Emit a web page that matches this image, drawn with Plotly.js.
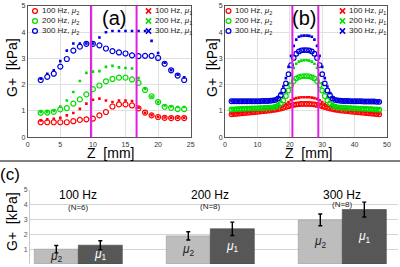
<!DOCTYPE html>
<html>
<head>
<meta charset="utf-8">
<script src="https://cdn.plot.ly/plotly-3.0.1.min.js"></script>
<style>html,body{margin:0;padding:0;background:#fff;}#chart{width:400px;height:267px;}</style>
</head>
<body>
<div id="chart"></div>
<script>
// ---------- Panel (a) data ----------
const zA = [2,3,4,5,6,7,8,9,10,11,12,13,14,15,16,17,18,19,20,21,22,23,24];
const a100mu2 = [0.57,0.57,0.57,0.57,0.57,0.61,0.66,0.68,0.71,0.83,0.96,1.17,1.25,1.25,1.21,1.10,0.94,0.83,0.77,0.74,0.73,0.73,0.73];
const a100mu1 = [0.64,0.68,0.70,0.74,0.83,0.92,1.08,1.28,1.43,1.47,1.40,1.34,1.40,1.40,1.38,1.12,0.93,0.84,0.78,0.75,0.74,0.74,0.74];
const a200mu2 = [0.93,0.94,0.97,1.06,1.11,1.28,1.44,1.63,1.83,1.97,2.13,2.22,2.27,2.27,2.20,2.07,1.80,1.56,1.34,1.16,1.12,1.07,1.07];
const a200mu1 = [0.96,0.96,1.00,1.17,1.40,1.72,2.14,2.45,2.50,2.52,2.68,2.72,2.66,2.64,2.62,2.25,1.85,1.55,1.33,1.21,1.17,1.15,1.15];
const a300mu2 = [2.18,2.30,2.42,2.69,2.98,3.30,3.45,3.56,3.56,3.50,3.38,3.28,3.23,3.19,3.12,3.09,3.10,3.10,3.02,2.80,2.55,2.35,2.18];
const a300mu1 = [2.23,2.42,2.55,2.90,3.30,3.57,3.57,3.57,3.57,3.80,4.00,4.05,4.05,4.05,4.05,4.05,4.05,3.67,3.21,2.84,2.55,2.38,2.28];
const boundsA = [9.7, 16.7];

// ---------- Panel (b) data ----------
const zB = [2.0,2.8,3.6,4.4,5.2,6.0,6.8,7.6,8.4,9.2,10.0,10.8,11.6,12.4,13.2,14.0,14.8,15.6,16.4,17.2,18.0,18.8,19.6,20.4,21.2,22.0,22.8,23.6,24.4,25.2,26.0,26.8,27.6,28.4,29.2,30.0,30.8,31.6,32.4,33.2,34.0,34.8,35.6,36.4,37.2,38.0,38.8,39.6,40.4,41.2,42.0,42.8,43.6,44.4,45.2,46.0,46.8,47.6];
const b100mu2 = [0.87,0.88,0.89,0.90,0.91,0.92,0.93,0.94,0.95,0.96,0.97,0.98,0.99,1.00,1.01,1.02,1.04,1.05,1.07,1.09,1.12,1.15,1.18,1.21,1.23,1.25,1.26,1.27,1.27,1.27,1.27,1.26,1.25,1.23,1.21,1.18,1.15,1.12,1.09,1.07,1.05,1.04,1.02,1.01,1.00,0.99,0.98,0.97,0.96,0.95,0.94,0.93,0.92,0.91,0.90,0.89,0.88,0.87];
const b100mu1 = [0.90,0.91,0.92,0.93,0.94,0.95,0.96,0.97,0.98,0.99,1.00,1.01,1.02,1.03,1.04,1.05,1.07,1.09,1.12,1.16,1.21,1.27,1.34,1.41,1.46,1.49,1.51,1.52,1.52,1.52,1.52,1.51,1.49,1.46,1.41,1.34,1.27,1.21,1.16,1.12,1.09,1.07,1.05,1.04,1.03,1.02,1.01,1.00,0.99,0.98,0.97,0.96,0.95,0.94,0.93,0.92,0.91,0.90];
const b200mu2 = [1.06,1.06,1.07,1.07,1.08,1.08,1.09,1.09,1.10,1.10,1.10,1.11,1.11,1.12,1.12,1.13,1.14,1.16,1.20,1.28,1.40,1.57,1.78,1.98,2.14,2.24,2.29,2.32,2.33,2.33,2.32,2.29,2.24,2.14,1.98,1.78,1.57,1.40,1.28,1.20,1.16,1.14,1.13,1.12,1.12,1.11,1.11,1.10,1.10,1.09,1.09,1.08,1.08,1.07,1.07,1.06,1.06,1.05];
const b200mu1 = [1.10,1.10,1.11,1.11,1.12,1.12,1.13,1.13,1.13,1.14,1.14,1.14,1.15,1.15,1.15,1.16,1.17,1.19,1.25,1.36,1.52,1.75,2.05,2.38,2.64,2.80,2.88,2.92,2.93,2.93,2.92,2.88,2.80,2.64,2.38,2.05,1.75,1.52,1.36,1.25,1.20,1.18,1.17,1.16,1.16,1.15,1.15,1.14,1.14,1.13,1.13,1.12,1.12,1.11,1.11,1.10,1.10,1.10];
const b300mu2 = [1.37,1.37,1.37,1.37,1.37,1.37,1.37,1.37,1.37,1.37,1.37,1.37,1.38,1.38,1.38,1.39,1.40,1.42,1.48,1.60,1.78,2.05,2.40,2.75,3.02,3.18,3.27,3.31,3.32,3.32,3.31,3.27,3.18,3.02,2.75,2.40,2.05,1.78,1.60,1.48,1.42,1.40,1.39,1.38,1.38,1.38,1.37,1.37,1.37,1.37,1.37,1.36,1.36,1.36,1.36,1.36,1.35,1.35];
const b300mu1 = [1.38,1.38,1.38,1.38,1.38,1.38,1.38,1.38,1.38,1.38,1.38,1.38,1.38,1.38,1.39,1.39,1.40,1.42,1.50,1.68,1.93,2.25,2.68,3.10,3.48,3.72,3.83,3.86,3.87,3.87,3.86,3.83,3.72,3.48,3.10,2.68,2.25,1.93,1.68,1.50,1.42,1.40,1.39,1.39,1.38,1.38,1.38,1.38,1.38,1.37,1.37,1.37,1.37,1.36,1.36,1.36,1.36,1.36];
const boundsB = [20.8, 28.8];

// ---------- Panel (c) data ----------
const freqs = ['100 Hz','200 Hz','300 Hz'];
const nLabels = ['(N=6)','(N=8)','(N=8)'];
const barMu2 = [1.00, 1.90, 2.98];
const errMu2 = [0.25, 0.28, 0.40];
const barMu1 = [1.27, 2.38, 3.68];
const errMu1 = [0.30, 0.45, 0.50];

const legendLabels = ['100 Hz', '200 Hz', '300 Hz'];
const colors = ['#ff0000', '#00dd00', '#0000dd'];

const FONT = 'Liberation Sans, Arial, sans-serif';
const W = 400, H = 267;
const px = v => v / W;
const py = v => 1 - v / H;

const traces = [];
function addPanel(xs, sets, xa, ya, csize) {
  sets.forEach((s, i) => {
    traces.push({type:'scatter', mode:'markers', x: xs, y: s[0], xaxis: xa, yaxis: ya, showlegend:false,
      marker:{symbol:'circle-open', size: csize, color: colors[i], line:{width:1.2, color: colors[i]}}});
    traces.push({type:'scatter', mode:'markers', x: xs, y: s[1], xaxis: xa, yaxis: ya, showlegend:false,
      marker:{symbol:'square', size: 2.6, color: colors[i], line:{width:0}}});
  });
}
addPanel(zA, [[a100mu2,a100mu1],[a200mu2,a200mu1],[a300mu2,a300mu1]], 'x', 'y', 5);
addPanel(zB, [[b100mu2,b100mu1],[b200mu2,b200mu1],[b300mu2,b300mu1]], 'x2', 'y2', 4.6);

const mu2txt = '<i>μ</i><sub>2</sub>';
const mu1txt = '<i>μ</i><sub>1</sub>';
traces.push({type:'bar', x: freqs, y: barMu2, xaxis:'x3', yaxis:'y3', showlegend:false,
  marker:{color:'#bdbdbd', line:{color:'#9a9a9a', width:0.6}},
  error_y:{type:'data', array: errMu2, visible:true, color:'#000', thickness:1.4, width:2},
  text: freqs.map(() => mu2txt), textposition:'inside', insidetextanchor:'middle', constraintext:'none', textangle:0,
  textfont:{family:FONT, size:12, color:'#222'}});
traces.push({type:'bar', x: freqs, y: barMu1, xaxis:'x3', yaxis:'y3', showlegend:false,
  marker:{color:'#575757', line:{color:'#444', width:0.6}},
  error_y:{type:'data', array: errMu1, visible:true, color:'#000', thickness:1.4, width:2},
  text: freqs.map(() => mu1txt), textposition:'inside', insidetextanchor:'middle', constraintext:'none', textangle:0,
  textfont:{family:FONT, size:12, color:'#ffffff'}});

const shapes = [];
const annotations = [];
boundsA.forEach(b => shapes.push({type:'line', xref:'x', yref:'y domain', x0:b, x1:b, y0:0, y1:1, line:{color:'#e020e0', width:2}}));
boundsB.forEach(b => shapes.push({type:'line', xref:'x2', yref:'y2 domain', x0:b, x1:b, y0:0, y1:1, line:{color:'#e020e0', width:2}}));
// separator line
shapes.push({type:'line', xref:'paper', yref:'paper', x0:0, x1:1, y0:py(161), y1:py(161), line:{color:'#000', width:1}});

// manual legends
const rowsY = [11, 21, 31];
function addLegend(circX, textX, crossX, crossTextX) {
  rowsY.forEach((yy, i) => {
    const r = 2.4;
    shapes.push({type:'circle', xref:'paper', yref:'paper', x0:px(circX - r), x1:px(circX + r), y0:py(yy + r), y1:py(yy - r),
      line:{color:colors[i], width:1.3}});
    annotations.push({xref:'paper', yref:'paper', x:px(textX), y:py(yy), xanchor:'left', yanchor:'middle', showarrow:false,
      text: legendLabels[i] + ', ' + mu2txt, font:{family:FONT, size:8, color:'#222'}});
    const c = 2.6;
    shapes.push({type:'line', xref:'paper', yref:'paper', x0:px(crossX - c), x1:px(crossX + c), y0:py(yy - c), y1:py(yy + c), line:{color:colors[i], width:1.5}});
    shapes.push({type:'line', xref:'paper', yref:'paper', x0:px(crossX - c), x1:px(crossX + c), y0:py(yy + c), y1:py(yy - c), line:{color:colors[i], width:1.5}});
    annotations.push({xref:'paper', yref:'paper', x:px(crossTextX), y:py(yy), xanchor:'left', yanchor:'middle', showarrow:false,
      text: legendLabels[i] + ', ' + mu1txt, font:{family:FONT, size:8, color:'#222'}});
  });
}
addLegend(35, 39.5, 148.5, 152.5);
addLegend(228.5, 232.5, 342.5, 346.5);

// panel labels & axis titles
function ann(x, y, text, size, extra) {
  annotations.push(Object.assign({xref:'paper', yref:'paper', x:px(x), y:py(y), xanchor:'center', yanchor:'middle', showarrow:false,
    text: text, font:{family:FONT, size:size, color:'#000'}}, extra || {}));
}
ann(114, 18, '(a)', 20);
ann(304, 18, '(b)', 20);
ann(10, 174, '(c)', 17);
ann(12, 68, 'G+\u00a0 [kPa]', 14, {textangle:-90});
ann(212, 68, 'G+\u00a0 [kPa]', 14, {textangle:-90});
ann(12, 222, 'G+\u00a0 [kPa]', 14, {textangle:-90});
ann(110, 153, 'Z\u00a0 [mm]', 14);
ann(308, 153, 'Z\u00a0 [mm]', 14);

// bar group labels
const nY = [3.8, 3.9, 4.0];
freqs.forEach((f, i) => {
  annotations.push({xref:'x3', yref:'y3', x:f, y:4.66, xanchor:'center', yanchor:'middle', showarrow:false,
    text:f, font:{family:FONT, size:12, color:'#000'}});
  annotations.push({xref:'x3', yref:'y3', x:f, y:nY[i], xanchor:'center', yanchor:'middle', showarrow:false,
    text:nLabels[i], font:{family:FONT, size:8, color:'#222'}});
});

const topAxis = (dom, rng, dt) => ({domain:dom, range:rng, dtick:dt, tick0:0, showgrid:true, gridcolor:'#e0e0e0', gridwidth:1,
  showline:true, mirror:true, linecolor:'#555', linewidth:1, ticks:'', zeroline:false,
  tickfont:{family:FONT, size:7, color:'#333'}, fixedrange:true});

const layout = {
  width: W, height: H,
  margin:{l:0, r:0, t:0, b:0, pad:0},
  paper_bgcolor:'#ffffff', plot_bgcolor:'#ffffff',
  showlegend:false,
  font:{family:FONT},
  xaxis: Object.assign(topAxis([px(27.7), px(190.7)], [0,25], 5), {anchor:'y'}),
  yaxis: Object.assign(topAxis([py(137.2), py(6)], [0,5], 1), {anchor:'x'}),
  xaxis2: Object.assign(topAxis([px(225), px(387)], [0,50], 10), {anchor:'y2'}),
  yaxis2: Object.assign(topAxis([py(137.2), py(6)], [0,5], 1), {anchor:'x2'}),
  xaxis3: {domain:[px(30), px(398)], anchor:'y3', type:'category', categoryarray:freqs, range:[-0.366, 2.422],
    showticklabels:false, showgrid:false, showline:false, ticks:'', zeroline:false, fixedrange:true},
  yaxis3: {domain:[py(264), py(190)], anchor:'x3', range:[0,5], dtick:1, tick0:0, showgrid:true, gridcolor:'#d4d4d4',
    showline:true, linecolor:'#c8c8c8', linewidth:1, ticks:'', zeroline:false,
    tickfont:{family:FONT, size:7, color:'#555'}, fixedrange:true},
  barmode:'group', bargap:0.333, bargroupgap:0,
  shapes: shapes,
  annotations: annotations
};

Plotly.newPlot('chart', traces, layout, {staticPlot:true, displayModeBar:false});
</script>
</body>
</html>
